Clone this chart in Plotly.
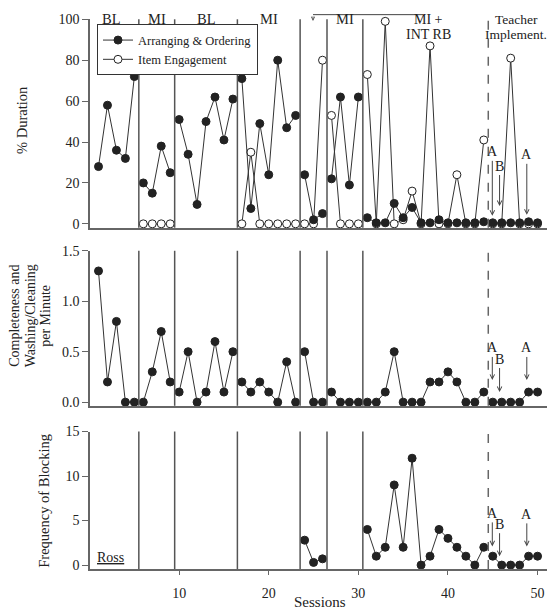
import plotly.graph_objects as go

# ---------------- data ----------------
sessions = list(range(1, 51))

arranging = [28, 58, 36, 32, 72,
             20, 15, 38, 25,
             51, 34, 9.5, 50, 62, 41, 61,
             71, 7.5, 49, 24, 80, 47, 53,
             24, 2, 5,
             22, 62, 19, 62,
             3, 0.5, 0.5, 10, 3, 8, 0.5, 0.5, 2, 0.5, 0.5, 0.5, 0.5, 1,
             0.5, 0.5, 0.5, 0.5, 1, 0.5]

engagement = [None, None, None, None, None,
              0, 0, 0, 0,
              None, None, None, None, None, None, None,
              0, 35, 0, 0, 0, 0, 0,
              0, 0, 80,
              53, 0, 0, 0,
              73, 0, 99, 0, 2, 16, 0, 87, 0, 0, 24, 0, 0, 41,
              0, 0, 81, 0, 0, 0]

completeness = [1.3, 0.2, 0.8, 0, 0,
                0, 0.3, 0.7, 0.2,
                0.1, 0.5, 0, 0.1, 0.6, 0.1, 0.5,
                0.2, 0.1, 0.2, 0.1, 0, 0.4, 0,
                0.5, 0, 0,
                0.1, 0, 0, 0,
                0, 0, 0.1, 0.5, 0, 0, 0, 0.2, 0.2, 0.3, 0.2, 0, 0, 0.1,
                0, 0, 0, 0, 0.1, 0.1]

blocking = [None] * 23 + [2.8, 0.3, 0.7] + [None] * 4 + \
           [4, 1, 2, 9, 2, 12, 0, 1, 4, 3, 2, 1, 0, 2] + \
           [1, 0, 0, 0, 1, 1]

phases = [(1, 5), (6, 9), (10, 16), (17, 23), (24, 26), (27, 30), (31, 44), (45, 50)]
phase_lines = [5.5, 9.5, 16.5, 23.5, 26.5, 30.5]
teacher_line = 44.5

phase_labels = [("BL", 2.5), ("MI", 7.5), ("BL", 13), ("MI", 20), ("MI", 28.5)]
phase_labels_2line = [("MI +", "INT RB", 37.8, 14), ("Teacher", "Implement.", 47.6, 13.5)]

# arrows: (label, session, top value, mid value, bottom value, offsets)
marks = [("A", 44.95, 3.9, 0.22, 2.1, -64, -32, -33),
         ("B", 45.76, 8.7, 0.10, 1.0, -40, -33, -32),
         ("A", 48.8, 4.4, 0.22, 2.1, -60, -32, -32)]

# ---------------- figure ----------------
FONT = "Liberation Serif"
INK = "#222222"
AX = "#666666"
fig = go.Figure()

def add_series(vals, xa, ya, name, filled, show_legend, rank):
    first = True
    for (a, b) in phases:
        xs = [s for s in sessions if a <= s <= b]
        ys = [vals[s - 1] for s in xs]
        if all(v is None for v in ys):
            continue
        fig.add_trace(go.Scatter(
            x=xs, y=ys, xaxis=xa, yaxis=ya, mode="lines+markers",
            name=name, legendgroup=name, legendrank=rank,
            showlegend=show_legend and first,
            line=dict(color="#333333", width=1),
            marker=dict(size=8, symbol="circle",
                        color=INK if filled else "white",
                        line=dict(color=INK, width=1)),
            connectgaps=False, cliponaxis=False))
        first = False

add_series(engagement, "x", "y", "Item Engagement", False, True, 2)
add_series(arranging, "x", "y", "Arranging & Ordering", True, True, 1)
add_series(completeness, "x2", "y2", "c", True, False, 3)
add_series(blocking, "x3", "y3", "b", True, False, 4)

OFF = 8  # page body margin
W, H = 555 - OFF, 609 - OFF
L, R, T, B = 90 - OFF, 4, 13 - OFF, 40
ph = H - T - B
pw = W - L - R

def Y(px):   # reference pixel y -> paper y
    return (H - B - (px - OFF)) / ph

def X(px):   # reference pixel x -> paper x
    return ((px - OFF) - L) / pw

def pdom(top_px, bot_px):
    return [Y(bot_px), Y(top_px)]

xrange_ = [0.05, 51.5]
xcommon = dict(range=xrange_, showline=True, linecolor=AX, linewidth=1.5,
               showgrid=False, zeroline=False, ticks="", showticklabels=False)
ycommon = dict(showline=True, linecolor=AX, linewidth=1.5, showgrid=False,
               zeroline=False, ticks="outside", ticklen=6, tickwidth=1.2,
               tickcolor=AX, tickfont=dict(family=FONT, size=14, color=INK))

fig.update_layout(
    width=W, height=H, margin=dict(l=L, r=R, t=T, b=B),
    paper_bgcolor="white", plot_bgcolor="white",
    font=dict(family=FONT, size=14, color=INK),
    xaxis=dict(**xcommon, domain=[0, 1], anchor="y"),
    yaxis=dict(**ycommon, domain=pdom(13.3, 224), range=[-1.9, 100],
               tickvals=[0, 20, 40, 60, 80, 100], anchor="x"),
    xaxis2=dict(**xcommon, domain=[0, 1], anchor="y2"),
    yaxis2=dict(**ycommon, domain=pdom(247.3, 404), range=[-0.036, 1.5],
                tickvals=[0, 0.5, 1.0, 1.5], tickformat=".1f", anchor="x2"),
    xaxis3=dict(range=xrange_, showline=True, linecolor=AX, linewidth=1.5,
                showgrid=False, zeroline=False, ticks="outside", ticklen=4,
                tickwidth=1.2, tickcolor=AX, tickvals=[10, 20, 30, 40, 50],
                tickfont=dict(family=FONT, size=14, color=INK),
                ticklabelstandoff=6, domain=[0, 1], anchor="y3"),
    yaxis3=dict(**ycommon, domain=pdom(430, 569), range=[-0.44, 15],
                tickvals=[0, 5, 10, 15], anchor="x3"),
    legend=dict(x=X(97), y=Y(18.5),
                xanchor="left", yanchor="top", bgcolor="white",
                bordercolor="#333333", borderwidth=1,
                font=dict(family=FONT, size=12.5, color=INK),
                tracegroupgap=0, itemwidth=30),
)

shapes = []
for yref in ["y", "y2", "y3"]:
    xr = {"y": "x", "y2": "x2", "y3": "x3"}[yref]
    for pl in phase_lines:
        shapes.append(dict(type="line", xref=xr, yref=yref + " domain",
                           x0=pl, x1=pl, y0=0, y1=1,
                           line=dict(color="#555555", width=1.5)))
    shapes.append(dict(type="line", xref=xr, yref=yref + " domain",
                       x0=teacher_line, x1=teacher_line, y0=0, y1=1,
                       line=dict(color="#666666", width=1.5, dash="dash")))

# top bracket line with arrow (drawn at the very top edge of the figure)
shapes.append(dict(type="line", xref="paper", yref="paper",
                   x0=X(313), x1=X(423), y0=Y(8.6), y1=Y(8.6),
                   line=dict(color="#444444", width=1)))
fig.update_layout(shapes=shapes)

ann = []
for txt, xv in phase_labels:
    ann.append(dict(text=txt, x=xv, y=100, xref="x", yref="y",
                    showarrow=False, font=dict(family=FONT, size=14.5, color=INK),
                    xanchor="center", yanchor="middle"))
for t1, t2, xv, fs in phase_labels_2line:
    ann.append(dict(text=t1, x=xv, y=100, xref="x", yref="y",
                    showarrow=False, font=dict(family=FONT, size=fs, color=INK),
                    xanchor="center", yanchor="middle"))
    ann.append(dict(text=t2, x=xv, y=100 - 15 / 2.067, xref="x", yref="y",
                    showarrow=False, font=dict(family=FONT, size=fs, color=INK),
                    xanchor="center", yanchor="middle"))

for lab, sx, v1, v2, v3, a1, a2, a3 in marks:
    for (xr, yr, v, ay) in [("x", "y", v1, a1), ("x2", "y2", v2, a2), ("x3", "y3", v3, a3)]:
        ann.append(dict(text=lab, x=sx, y=v, xref=xr, yref=yr, ax=0, ay=ay,
                        showarrow=True, arrowhead=5, arrowsize=0.9, arrowwidth=1,
                        arrowcolor="#444444", standoff=0, startstandoff=0,
                        font=dict(family=FONT, size=14, color=INK)))

# small down arrow at left end of top bracket
ann.append(dict(text="", x=X(313), y=Y(15), xref="paper", yref="paper",
                ax=0, ay=-6, showarrow=True, arrowhead=5, arrowsize=0.7,
                arrowwidth=1, arrowcolor="#444444"))

ann.append(dict(text="<u>Ross</u>", x=2.34, y=0.8, xref="x3", yref="y3",
                showarrow=False, font=dict(family=FONT, size=14, color=INK),
                xanchor="center", yanchor="middle"))
ann.append(dict(text="Sessions", x=X(320), y=Y(602),
                xref="paper", yref="paper", showarrow=False,
                font=dict(family=FONT, size=15, color=INK),
                xanchor="center", yanchor="middle"))
ann.append(dict(text="% Duration", x=X(22), y=Y(115),
                xref="paper", yref="paper", showarrow=False, textangle=-90,
                font=dict(family=FONT, size=14.5, color=INK),
                xanchor="center", yanchor="middle"))
for txt, px in [("Completeness and", 15), ("Washing/Cleaning", 30.5), ("per Minute", 46)]:
    ann.append(dict(text=txt, x=X(px), y=Y(313),
                    xref="paper", yref="paper", showarrow=False, textangle=-90,
                    font=dict(family=FONT, size=14, color=INK),
                    xanchor="center", yanchor="middle"))
ann.append(dict(text="Frequency of Blocking", x=X(44), y=Y(500),
                xref="paper", yref="paper", showarrow=False, textangle=-90,
                font=dict(family=FONT, size=14.5, color=INK),
                xanchor="center", yanchor="middle"))
fig.update_layout(annotations=ann)

fig.write_html("out.html")
